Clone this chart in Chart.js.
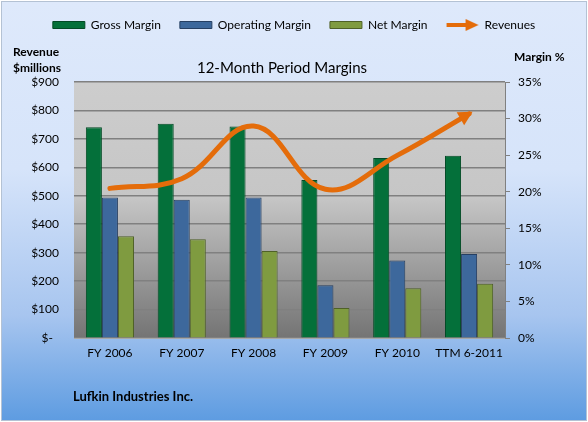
<!DOCTYPE html>
<html><head><meta charset="utf-8">
<script src="https://cdn.jsdelivr.net/npm/chart.js@4/dist/chart.umd.min.js"></script>
<style>
html,body{margin:0;padding:0;}
#wrap{position:relative;width:588px;height:422px;overflow:hidden;}
#bg{position:absolute;left:1px;top:1px;width:584px;height:418px;border:1px solid #b4c2d4;
background:linear-gradient(to bottom,#dee9fb 0%,#d6e4fa 40%,#a7c5ef 75%,#5e9ce1 100%);}
canvas{position:absolute;left:0;top:0;}
</style></head>
<body><div id="wrap"><div id="bg"></div><canvas id="c" width="588" height="422"></canvas></div>
<script>
const categories = ['FY 2006','FY 2007','FY 2008','FY 2009','FY 2010','TTM 6-2011'];
const grossMargin = [28.8, 29.3, 28.9, 21.6, 24.6, 24.9];
const operatingMargin = [19.2, 18.9, 19.2, 7.2, 10.6, 11.5];
const netMargin = [13.9, 13.5, 11.9, 4.1, 6.8, 7.4];
const revenues = [526, 560, 745, 523, 642, 788];
const revenueTicks = [0,100,200,300,400,500,600,700,800,900];
const marginTicks = [0,5,10,15,20,25,30,35];
const chartTitle = '12-Month Period Margins';
const footerText = 'Lufkin Industries Inc.';

const ORANGE = '#e46c0a';
Chart.defaults.font.family = 'Lato, "Open Sans", sans-serif';
Chart.defaults.font.size = 12;
Chart.defaults.color = '#1a1a1a';

// legend arrow icon
const arrowIcon = document.createElement('canvas');
arrowIcon.width = 34; arrowIcon.height = 14;
(function(){
  const g = arrowIcon.getContext('2d');
  g.fillStyle = ORANGE;
  g.fillRect(1, 5, 22, 4);
  g.beginPath(); g.moveTo(20,1); g.lineTo(33,7); g.lineTo(20,13); g.closePath(); g.fill();
})();

const plotBg = {
  id:'plotBg',
  beforeDraw(chart){
    const {ctx, chartArea:a} = chart;
    const gr = ctx.createLinearGradient(0,a.top,0,a.bottom);
    gr.addColorStop(0,'#cdcdcd');
    gr.addColorStop(0.45,'#c6c6c6');
    gr.addColorStop(1,'#747474');
    ctx.save(); ctx.fillStyle = gr; ctx.fillRect(a.left,a.top,a.right-a.left,a.bottom-a.top); ctx.restore();
  }
};

// title band placed below the legend
const titleBand = {
  id:'titleBand',
  beforeInit(chart){
    const box = {
      position:'top', weight:500, fullSize:true, options:{},
      left:0, top:0, right:0, bottom:0, width:0, height:0,
      isHorizontal(){ return true; },
      getPadding(){ return {left:0,right:0,top:0,bottom:0}; },
      update(maxWidth){ this.width = maxWidth; this.height = 41; },
      draw(){
        const ctx = chart.ctx; ctx.save();
        ctx.fillStyle = '#000'; ctx.textAlign = 'center'; ctx.textBaseline = 'middle';
        ctx.font = '15px Lato, sans-serif';
        ctx.fillText(chartTitle, 282, this.top + 27);
        ctx.restore();
      }
    };
    Chart.layouts.addBox(chart, box);
  }
};

const arrowHead = {
  id:'arrowHead',
  afterDatasetsDraw(chart){
    const meta = chart.getDatasetMeta(3);
    const pts = meta.data; if(!pts.length) return;
    const p = pts[pts.length-1];
    let cx = p.cp1x, cy = p.cp1y;
    if (cx === undefined || (Math.abs(cx-p.x)<0.5 && Math.abs(cy-p.y)<0.5)) { cx = pts[pts.length-2].x; cy = pts[pts.length-2].y; }
    let dx = p.x - cx, dy = p.y - cy; const L = Math.hypot(dx,dy); dx/=L; dy/=L;
    const tipX = p.x + dx*4, tipY = p.y + dy*4;
    const bx = tipX - dx*14, by = tipY - dy*14;
    const nx = -dy, ny = dx, w = 7.5;
    const ctx = chart.ctx; ctx.save(); ctx.fillStyle = ORANGE;
    ctx.beginPath(); ctx.moveTo(tipX,tipY); ctx.lineTo(bx+nx*w, by+ny*w); ctx.lineTo(bx-nx*w, by-ny*w); ctx.closePath(); ctx.fill();
    ctx.restore();
  }
};

const texts = {
  id:'texts',
  afterDraw(chart){
    const ctx = chart.ctx; ctx.save();
    ctx.fillStyle = '#000'; ctx.textBaseline = 'middle'; ctx.textAlign = 'left';
    ctx.font = 'bold 12px Lato, sans-serif';
    ctx.fillText('Revenue', 13, 52);
    ctx.fillText('$millions', 13, 68);
    ctx.fillText('Margin %', 514, 57);
    ctx.font = 'bold 13px Lato, sans-serif';
    ctx.fillText(footerText, 73, 397);
    ctx.restore();
  }
};

new Chart(document.getElementById('c'), {
  type:'bar',
  data:{
    labels: categories,
    datasets:[
      {label:'Gross Margin', data: grossMargin, yAxisID:'y1', order:1,
       backgroundColor:'#04703a', borderColor:'#024a25', borderWidth:1},
      {label:'Operating Margin', data: operatingMargin, yAxisID:'y1', order:1,
       backgroundColor:'#3d689c', borderColor:'#263f62', borderWidth:1},
      {label:'Net Margin', data: netMargin, yAxisID:'y1', order:1,
       backgroundColor:'#7f9b40', borderColor:'#4f6127', borderWidth:1},
      {type:'line', label:'Revenues', data: revenues, yAxisID:'y', order:0,
       borderColor: ORANGE, backgroundColor: ORANGE, borderWidth:5, tension:0.4,
       pointRadius:0, pointHoverRadius:0, fill:false, borderCapStyle:'round'}
    ]
  },
  options:{
    responsive:false, animation:false, devicePixelRatio:1,
    layout:{padding:{top:0,left:0,right:0,bottom:0}},
    datasets:{bar:{barPercentage:1, categoryPercentage:0.67}},
    plugins:{
      tooltip:{enabled:false},
      title:{display:false},
      legend:{position:'top', align:'center', weight:1000,
        labels:{usePointStyle:true, pointStyleWidth:32, boxHeight:7, padding:19, color:'#000',
          font:{size:12},
          sort:(a,b)=>a.datasetIndex-b.datasetIndex,
          generateLabels:(chart)=>{
            const items = Chart.defaults.plugins.legend.labels.generateLabels(chart);
            items.forEach(it=>{ it.pointStyle = it.datasetIndex===3 ? arrowIcon : 'rect'; });
            return items;
          }}}
    },
    scales:{
      x:{grid:{display:false, drawTicks:false}, border:{display:true,color:'#a8a8a8'},
         ticks:{padding:8, color:'#000', maxRotation:0, minRotation:0, autoSkip:false},
         afterFit:(s)=>{s.height = 84;}},
      y:{position:'left', min:0, max:900,
         afterBuildTicks:(s)=>{s.ticks = revenueTicks.map(v=>({value:v}));},
         ticks:{padding:15, color:'#000', callback:(v)=> v===0 ? '$-  ' : '$'+v},
         grid:{color:'#808080', lineWidth:1.5, drawTicks:false},
         border:{display:false},
         afterFit:(s)=>{s.width = 74;}},
      y1:{position:'right', min:0, max:35,
         afterBuildTicks:(s)=>{s.ticks = marginTicks.map(v=>({value:v}));},
         ticks:{padding:8, color:'#000', callback:(v)=> v+'%'},
         grid:{drawOnChartArea:false, drawTicks:true, tickLength:5, color:'#808080'},
         border:{display:true, color:'#808080'},
         afterFit:(s)=>{s.width = 83;}}
    }
  },
  plugins:[plotBg, titleBand, arrowHead, texts]
});
</script></body></html>
